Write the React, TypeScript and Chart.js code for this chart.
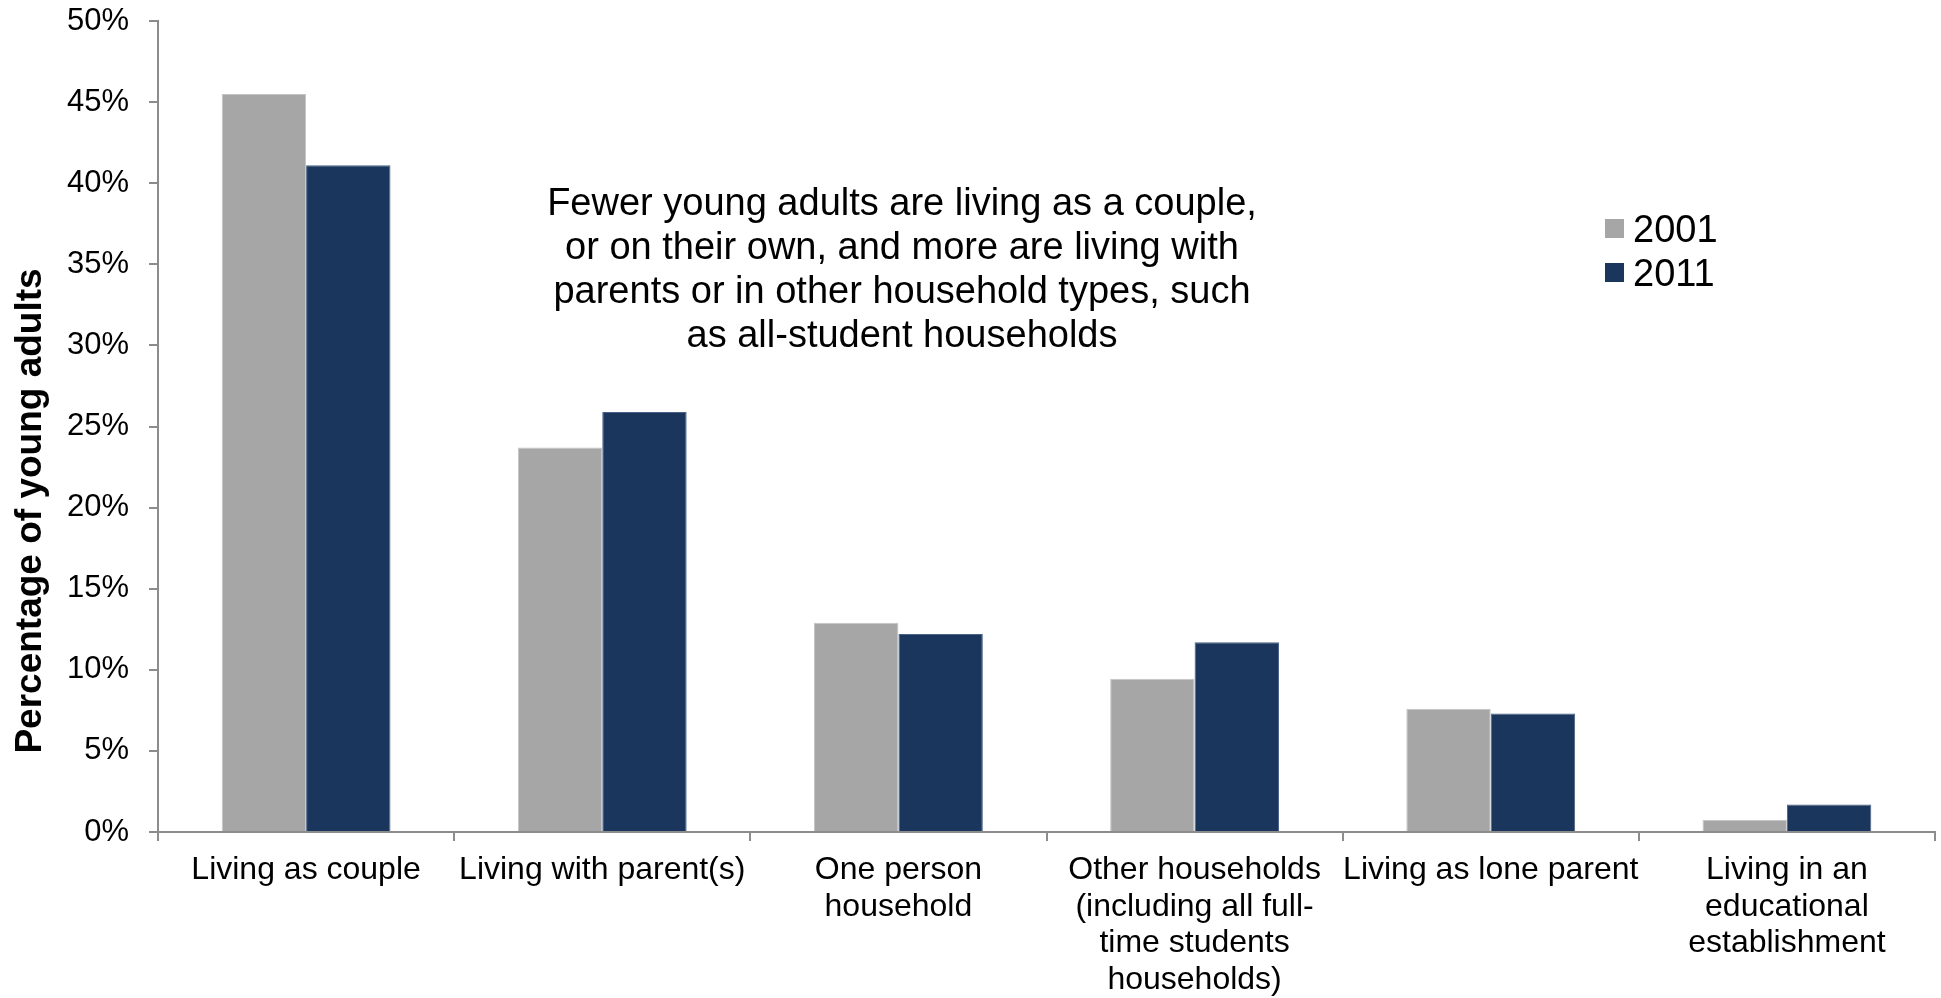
import React, { useEffect, useRef } from "react";
import { Chart, registerables } from "chart.js";

Chart.register(...registerables);

const categories: string[][] = [
  ["Living as couple"],
  ["Living with parent(s)"],
  ["One person", "household"],
  ["Other households", "(including all full-", "time students", "households)"],
  ["Living as lone parent"],
  ["Living in an", "educational", "establishment"],
];
const seriesNames = ["2001", "2011"];
const values2001 = [45.5, 23.7, 12.9, 9.45, 7.6, 0.76];
const values2011 = [41.1, 25.9, 12.2, 11.7, 7.3, 1.7];
const yTickValues = [0, 5, 10, 15, 20, 25, 30, 35, 40, 45, 50];
const yTitle = "Percentage of young adults";
const annotationLines = [
  "Fewer young adults are living as a couple,",
  "or on their own, and more are living with",
  "parents or in other household types, such",
  "as all-student households",
];

const FONT = "'Liberation Sans', Arial, sans-serif";
const COLORS = ["#A6A6A6", "#1A365D"];
const BORDERS = ["#C4C4C4", "#4A6286"];
const AXIS = "#8C8C8C";

const overlayPlugin = {
  id: "overlayText",
  afterDraw(chart: any) {
    const ctx = chart.ctx;
    ctx.save();
    // y axis title
    ctx.fillStyle = "#000";
    ctx.font = `bold 37px ${FONT}`;
    ctx.textAlign = "center";
    ctx.textBaseline = "middle";
    ctx.translate(31, 511);
    ctx.rotate(-Math.PI / 2);
    ctx.fillText(yTitle, 0, 0);
    ctx.restore();

    ctx.save();
    ctx.fillStyle = "#000";
    ctx.font = `38px ${FONT}`;
    ctx.textAlign = "center";
    ctx.textBaseline = "alphabetic";
    annotationLines.forEach((line, i) => {
      ctx.fillText(line, 902, 215 + i * 44);
    });

    // legend
    ctx.textAlign = "left";
    chart.data.datasets.forEach((ds: any, i: number) => {
      const top = 219 + i * 44;
      ctx.fillStyle = ds.backgroundColor;
      ctx.fillRect(1605, top, 19, 19);
      ctx.fillStyle = "#000";
      ctx.fillText(ds.label, 1633, top + 23);
    });
    ctx.restore();
  },
};

export default function App() {
  const canvasRef = useRef<HTMLCanvasElement | null>(null);

  useEffect(() => {
    if (!canvasRef.current) return;
    const chart = new Chart(canvasRef.current, {
      type: "bar",
      data: {
        labels: categories,
        datasets: [
          {
            label: seriesNames[0],
            data: values2001,
            backgroundColor: COLORS[0],
            borderColor: BORDERS[0],
            borderWidth: 1,
          },
          {
            label: seriesNames[1],
            data: values2011,
            backgroundColor: COLORS[1],
            borderColor: BORDERS[1],
            borderWidth: 1,
          },
        ],
      },
      options: {
        animation: false,
        responsive: true,
        maintainAspectRatio: false,
        devicePixelRatio: 1,
        layout: { padding: { top: 21, right: 6, left: 0, bottom: 0 } },
        datasets: {
          bar: { categoryPercentage: 0.57, barPercentage: 1 },
        },
        plugins: {
          legend: { display: false },
          tooltip: { enabled: false },
          title: { display: false },
        },
        scales: {
          x: {
            grid: {
              display: true,
              offset: true,
              drawOnChartArea: false,
              drawTicks: true,
              tickLength: 9,
              color: AXIS,
              lineWidth: 2,
            },
            border: { display: true, color: AXIS, width: 2 },
            ticks: {
              autoSkip: false,
              maxRotation: 0,
              minRotation: 0,
              padding: 11,
              color: "#000",
              font: { family: FONT, size: 32, lineHeight: 1.14 },
            },
            afterFit: (scale: any) => {
              scale.height = 166;
              scale.paddingLeft = 0;
              scale.paddingRight = 0;
            },
          },
          y: {
            min: 0,
            max: 50,
            afterBuildTicks: (scale: any) => {
              scale.ticks = yTickValues.map((v) => ({ value: v }));
            },
            grid: {
              display: true,
              drawOnChartArea: false,
              drawTicks: true,
              tickLength: 9,
              color: AXIS,
              lineWidth: 2,
            },
            border: { display: true, color: AXIS, width: 2 },
            ticks: {
              padding: 20,
              color: "#000",
              font: { family: FONT, size: 31 },
              callback: (v: any) => `${v}%`,
            },
            afterFit: (scale: any) => {
              scale.width = 158;
              scale.paddingTop = 0;
              scale.paddingBottom = 0;
            },
          },
        },
      },
      plugins: [overlayPlugin],
    });
    return () => chart.destroy();
  }, []);

  return (
    <div
      style={{
        position: "fixed",
        left: 0,
        top: 0,
        width: "1941px",
        height: "998px",
        background: "#fff",
      }}
    >
      <canvas ref={canvasRef} />
    </div>
  );
}
